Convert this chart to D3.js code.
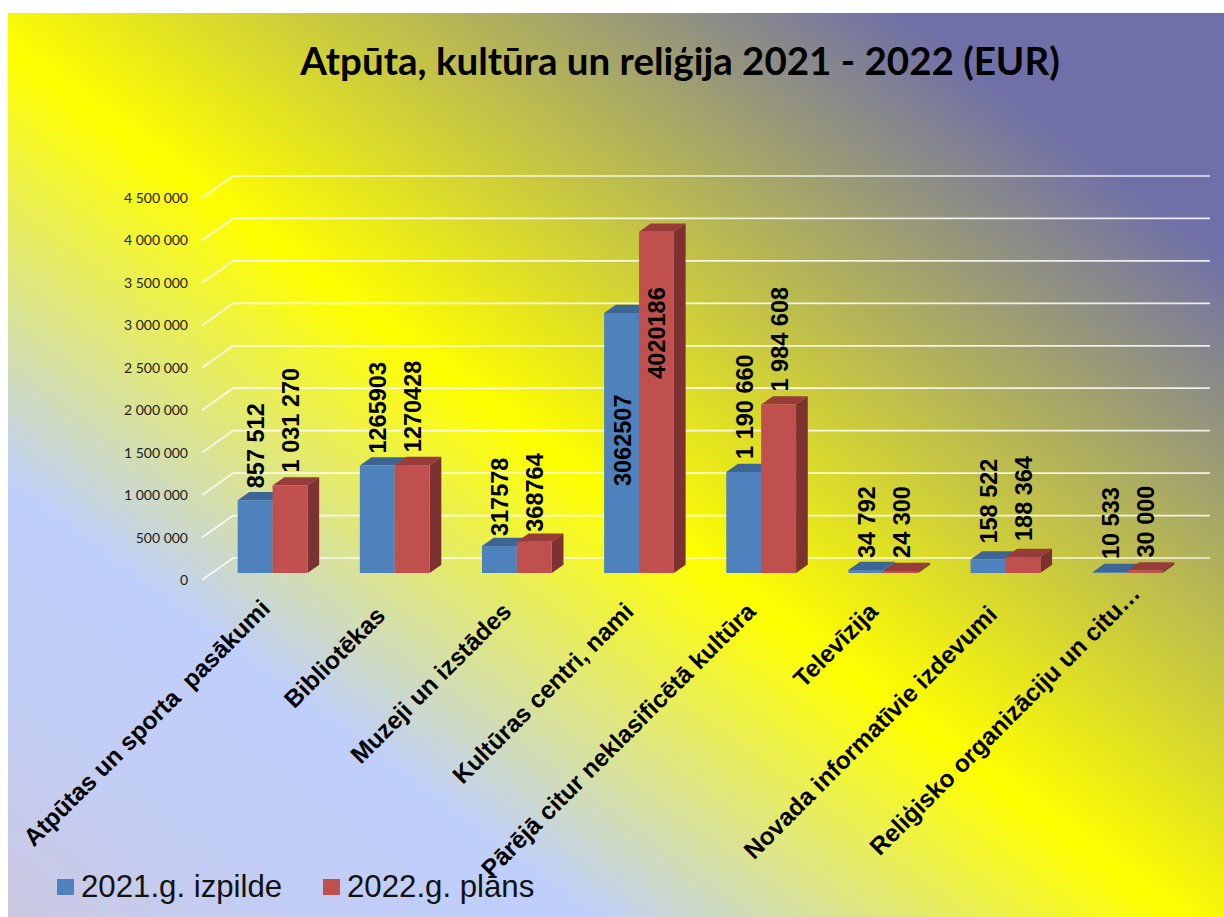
<!DOCTYPE html>
<html><head><meta charset="utf-8">
<script src="https://cdn.jsdelivr.net/npm/d3@7"></script>
<style>html,body{margin:0;padding:0;background:#fff}svg{display:block}</style>
</head><body><svg id="c" width="1224" height="917"></svg>
<script>
const titleText = "Atpūta, kultūra un reliģija 2021 - 2022 (EUR)";
const categories = ["Atpūtas un sporta  pasākumi","Bibliotēkas","Muzeji un izstādes","Kultūras centri, nami","Pārējā citur neklasificētā kultūra","Televīzija","Novada informatīvie izdevumi","Reliģisko organizāciju un citu…"];
const seriesNames = ["2021.g. izpilde","2022.g. plāns"];
const values2021 = [857512,1265903,317578,3062507,1190660,34792,158522,10533];
const values2022 = [1031270,1270428,368764,4020186,1984608,24300,188364,30000];
const labels2021 = ["857 512","1265903","317578","3062507","1 190 660","34 792","158 522","10 533"];
const labels2022 = ["1 031 270","1270428","368764","4020186","1 984 608","24 300","188 364","30 000"];
const lift2021 = [12,12,10,-173,13,12,16,13];
const lift2022 = [13,13,10,-147,13,13,16,13];
const catNudge = [3,-4,0,0,0,0,-3,18];
const yTicks = [0,500000,1000000,1500000,2000000,2500000,3000000,3500000,4000000,4500000];
const seriesColors = [{front:"#4f81bd",top:"#3c6595",side:"#3c6595"},{front:"#c0504d",top:"#983c3b",side:"#7d3131"}];

const svg = d3.select("#c");
const defs = svg.append("defs");
const grad = defs.append("linearGradient").attr("id","bg").attr("gradientUnits","userSpaceOnUse")
  .attr("x1",-436).attr("y1",587).attr("x2",429).attr("y2",-578);
const tMin=-731,tMax=720;
[[-731,"#cbc9e2"],[-560,"#c2cdf4"],[-385,"#bfcffc"],[-35,"#ffff00"],[525,"#7070a8"],[720,"#7070a8"]].forEach(([t,c])=>{
  grad.append("stop").attr("offset",(t-tMin)/(tMax-tMin)).attr("stop-color",c);
});
svg.append("rect").attr("x",8).attr("y",13).attr("width",1216).attr("height",904).attr("fill","url(#bg)");

svg.append("text").attr("x",680).attr("y",75).attr("text-anchor","middle")
  .attr("font-family","Lato").attr("font-weight",700).attr("font-size",38.5).attr("fill","#000").text(titleText);

const y = d3.scaleLinear().domain([0,4500000]).range([580,198]);
const x = d3.scaleBand().domain(categories).range([211.5,1188.7]).paddingInner(0.4286).paddingOuter(0.2143);
const xs = d3.scaleBand().domain([0,1]).range([0,x.bandwidth()]);
const depthX=11.7, depthY=8.3, baseShift=7, backX=31, backY=22;

// gridlines
const gridRight=1210, gridLeft=202;
svg.append("g").selectAll("path").data(yTicks).join("path")
  .attr("d",d=>{const p=d3.path();p.moveTo(gridLeft,y(d));p.lineTo(gridLeft+backX,y(d)-backY);p.lineTo(gridRight,y(d)-backY);return p.toString();})
  .attr("fill","none").attr("stroke","#fff").attr("stroke-opacity",0.85).attr("stroke-width",1.7);

// axis
const fmt = d => d3.format(",")(d).replace(/,/g," ");
const axis = d3.axisLeft(y).tickValues(yTicks).tickSize(0).tickPadding(0).tickFormat(fmt);
const ag = svg.append("g").attr("transform","translate(188,0)").call(axis);
ag.select(".domain").remove();
ag.selectAll("text").attr("font-family","Lato").attr("font-size",14).attr("fill","#222");

// bars
[values2021,values2022].forEach((vals,s)=>{
  const col = seriesColors[s];
  const g = svg.append("g");
  categories.forEach((c,i)=>{
    const x0=x(c)+xs(s), w=xs.bandwidth(), yb=y(0)-baseShift, yt=y(vals[i])-baseShift;
    const bar=g.append("g");
    const top=d3.path();top.moveTo(x0,yt);top.lineTo(x0+depthX,yt-depthY);top.lineTo(x0+w+depthX,yt-depthY);top.lineTo(x0+w,yt);top.closePath();
    const side=d3.path();side.moveTo(x0+w,yt);side.lineTo(x0+w+depthX,yt-depthY);side.lineTo(x0+w+depthX,yb-depthY);side.lineTo(x0+w,yb);side.closePath();
    bar.append("path").attr("d",top.toString()).attr("fill",col.top);
    bar.append("path").attr("d",side.toString()).attr("fill",col.side);
    bar.append("rect").attr("x",x0).attr("y",yt).attr("width",w).attr("height",yb-yt).attr("fill",col.front);
  });
});

// value labels
[[values2021,labels2021,lift2021],[values2022,labels2022,lift2022]].forEach(([vals,labs,lift],s)=>{
  svg.append("g").selectAll("text").data(categories).join("text")
    .attr("transform",(c,i)=>`translate(${x(c)+xs(s)+xs.bandwidth()/2+0.5},${y(vals[i])-baseShift-lift[i]}) rotate(-90)`)
    .attr("dy","0.36em").attr("font-family","Liberation Sans").attr("font-weight",700).attr("font-size",23.5).attr("fill","#000")
    .text((c,i)=>labs[i]);
});

// category labels
svg.append("g").selectAll("text").data(categories).join("text")
  .attr("transform",(c,i)=>`translate(${x(c)+x.bandwidth()/2-4+catNudge[i]},${613-catNudge[i]}) rotate(-45)`)
  .attr("text-anchor","end").attr("font-family","Liberation Sans").attr("font-weight",700).attr("font-size",24.5).attr("fill","#000")
  .style("white-space","pre").text(c=>c);

// legend
const legendX=[57,323];
seriesNames.forEach((n,i)=>{
  svg.append("rect").attr("x",legendX[i]).attr("y",879).attr("width",17).attr("height",16).attr("fill",seriesColors[i].front);
  svg.append("text").attr("x",legendX[i]+24).attr("y",897).attr("font-family","Liberation Sans").attr("font-size",31.2).attr("fill","#111").text(n);
});
</script></body></html>
